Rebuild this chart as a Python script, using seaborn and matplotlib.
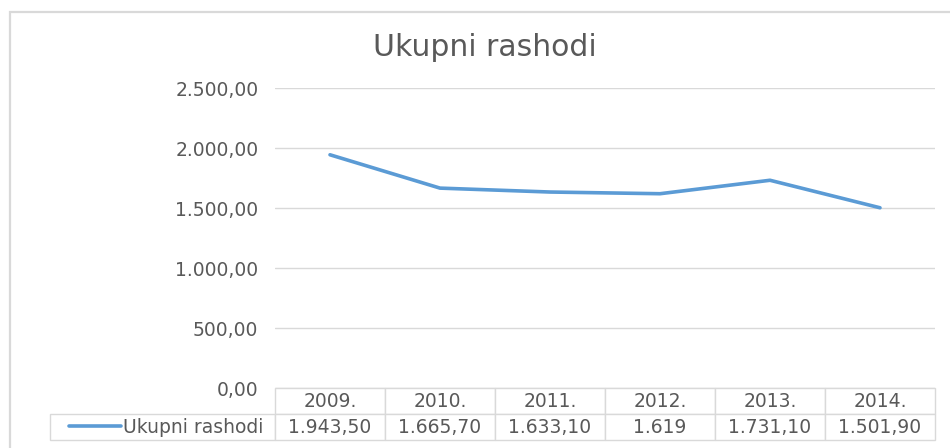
"""Ukupni rashodi - line chart with data table below."""

import matplotlib.pyplot as plt
import pandas as pd
import seaborn as sns
from matplotlib.lines import Line2D
from matplotlib.patches import Rectangle
from matplotlib.ticker import FuncFormatter

YEARS = ["2009.", "2010.", "2011.", "2012.", "2013.", "2014."]
VALUES = [1943.50, 1665.70, 1633.10, 1619.00, 1731.10, 1501.90]
VALUE_LABELS = ["1.943,50", "1.665,70", "1.633,10", "1.619", "1.731,10", "1.501,90"]
SERIES = "Ukupni rashodi"

LINE = "#5B9BD5"
TEXT = "#595959"
GRID = "#D9D9D9"


def _hr_number(y, _):
    s = "{:,.2f}".format(y)
    return s.replace(",", " ").replace(".", ",").replace(" ", ".")


def main():
    sns.set_style("white")
    plt.rcParams["font.family"] = ["DejaVu Sans"]

    fig = plt.figure(figsize=(9.5, 4.48), dpi=100)
    fig.patches.append(
        Rectangle((10 / 950, -0.05), 1.0, (448 - 12) / 448 + 0.05,
                  transform=fig.transFigure, fill=False, edgecolor=GRID, linewidth=1.6)
    )

    ax = fig.add_axes([275 / 950, 60 / 448, 660 / 950, 300 / 448])
    df = pd.DataFrame({"year": range(len(YEARS)), "value": VALUES})
    sns.lineplot(data=df, x="year", y="value", color=LINE, linewidth=2.6, ax=ax)

    ax.set_xlim(-0.5, len(YEARS) - 0.5)
    ax.set_ylim(0, 2500)
    ax.set_yticks(range(0, 2501, 500))
    ax.yaxis.set_major_formatter(FuncFormatter(_hr_number))
    ax.set_xticks([])
    ax.set_xlabel("")
    ax.set_ylabel("")
    ax.grid(axis="y", color=GRID, linewidth=1)
    for side in ax.spines.values():
        side.set_visible(False)
    ax.tick_params(axis="y", length=0, pad=12, labelsize=13.5, labelcolor=TEXT)

    # data table
    label_w = 225 / 660
    row_h = 26 / 300
    col_w = [225 / 885] + [110 / 885] * len(YEARS)
    tbl = ax.table(
        cellText=[[""] + VALUE_LABELS],
        colLabels=[""] + YEARS,
        colWidths=col_w,
        cellLoc="center",
        bbox=[-label_w, -2 * row_h, 1 + label_w, 2 * row_h],
    )
    tbl.auto_set_font_size(False)
    tbl.set_fontsize(13.5)
    for (r, c), cell in tbl.get_celld().items():
        cell.set_edgecolor(GRID)
        cell.set_linewidth(1)
        cell.get_text().set_color(TEXT)
    tbl[0, 0].set_visible(False)

    # legend key inside the first data cell
    ax.legend(
        handles=[Line2D([], [], color=LINE, linewidth=2.6)],
        labels=[SERIES],
        loc="center left",
        bbox_to_anchor=(-label_w + 0.017, -1.5 * row_h),
        frameon=False,
        handlelength=2.8,
        handletextpad=0.1,
        borderaxespad=0,
        fontsize=13.5,
        labelcolor=TEXT,
    )

    fig.text(485 / 950, 1 - 47 / 448, SERIES, ha="center", va="center",
             fontsize=21.5, color=TEXT)

    fig.savefig("out.png", dpi=100)


if __name__ == "__main__":
    main()
